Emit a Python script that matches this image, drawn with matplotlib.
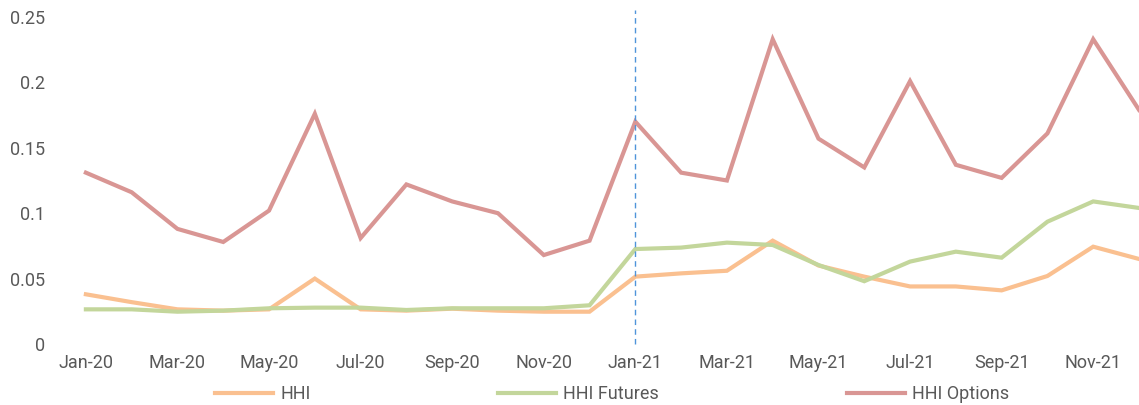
import matplotlib
matplotlib.use("Agg")
import matplotlib.pyplot as plt
from matplotlib.lines import Line2D

months = ["Jan-20","Feb-20","Mar-20","Apr-20","May-20","Jun-20","Jul-20","Aug-20","Sep-20","Oct-20","Nov-20","Dec-20",
          "Jan-21","Feb-21","Mar-21","Apr-21","May-21","Jun-21","Jul-21","Aug-21","Sep-21","Oct-21","Nov-21","Dec-21"]
hhi = [0.038,0.032,0.0265,0.0255,0.0265,0.050,0.0265,0.0255,0.027,0.0255,0.0247,0.0247,
       0.0515,0.054,0.056,0.079,0.060,0.0515,0.044,0.044,0.041,0.052,0.0744,0.065]
hhi_fut = [0.0265,0.0265,0.0247,0.0255,0.0273,0.0278,0.0278,0.026,0.0273,0.0273,0.0273,0.0296,
           0.0726,0.0737,0.0775,0.0757,0.0604,0.048,0.063,0.0706,0.066,0.0935,0.109,0.104]
hhi_opt = [0.131,0.116,0.088,0.078,0.102,0.176,0.081,0.122,0.109,0.100,0.068,0.079,
           0.170,0.131,0.125,0.233,0.157,0.135,0.201,0.137,0.127,0.161,0.233,0.179]
yticks = [0, 0.05, 0.1, 0.15, 0.2, 0.25]
ytick_labels = ["0", "0.05", "0.1", "0.15", "0.2", "0.25"]
marker_month = "Jan-21"

plt.rcParams['font.family'] = ['Roboto', 'DejaVu Sans']
W, H = 1139, 405
fig = plt.figure(figsize=(W/100, H/100), dpi=100)
left, right, top, bottom = 63, 1139, 17, 344
ax = fig.add_axes([left/W, 1 - bottom/H, (right-left)/W, (bottom-top)/H])

x = list(range(len(months)))
c_hhi = "#FAC090"
c_fut = "#C3D69B"
c_opt = "#D99694"
ax.plot(x, hhi, color=c_hhi, lw=3, solid_joinstyle='miter', label="HHI", clip_on=False)
ax.plot(x, hhi_fut, color=c_fut, lw=3, solid_joinstyle='miter', label="HHI Futures", clip_on=False)
ax.plot(x, hhi_opt, color=c_opt, lw=3, solid_joinstyle='miter', label="HHI Options", clip_on=False)

xm = months.index(marker_month)
ax.plot([xm, xm], [0, 0.255], color="#4F94DA", lw=1, ls=(0, (4, 3)), clip_on=False)

ax.set_xlim(-0.5, 23.0)
ax.set_ylim(0, 0.25)
ax.set_xticks(x[::2])
ax.set_xticklabels(months[::2])
ax.set_yticks(yticks)
ax.set_yticklabels(ytick_labels)
for s in ax.spines.values():
    s.set_visible(False)
ax.tick_params(length=0, colors="#595959", labelsize=13)
ax.tick_params(axis='x', pad=7)
ax.tick_params(axis='y', pad=13)
for lab in ax.get_yticklabels():
    lab.set_horizontalalignment('right')

handles = [Line2D([], [], color=c, lw=3) for c in (c_hhi, c_fut, c_opt)]
leg = fig.legend(handles, ["HHI", "HHI Futures", "HHI Options"], loc='center', ncol=3,
                 bbox_to_anchor=(612/W, 1 - 394/H), frameon=False, fontsize=13,
                 handlelength=3.2, handletextpad=0.4, columnspacing=10.4)
for t in leg.get_texts():
    t.set_color("#595959")

fig.savefig("out.png", dpi=100)
